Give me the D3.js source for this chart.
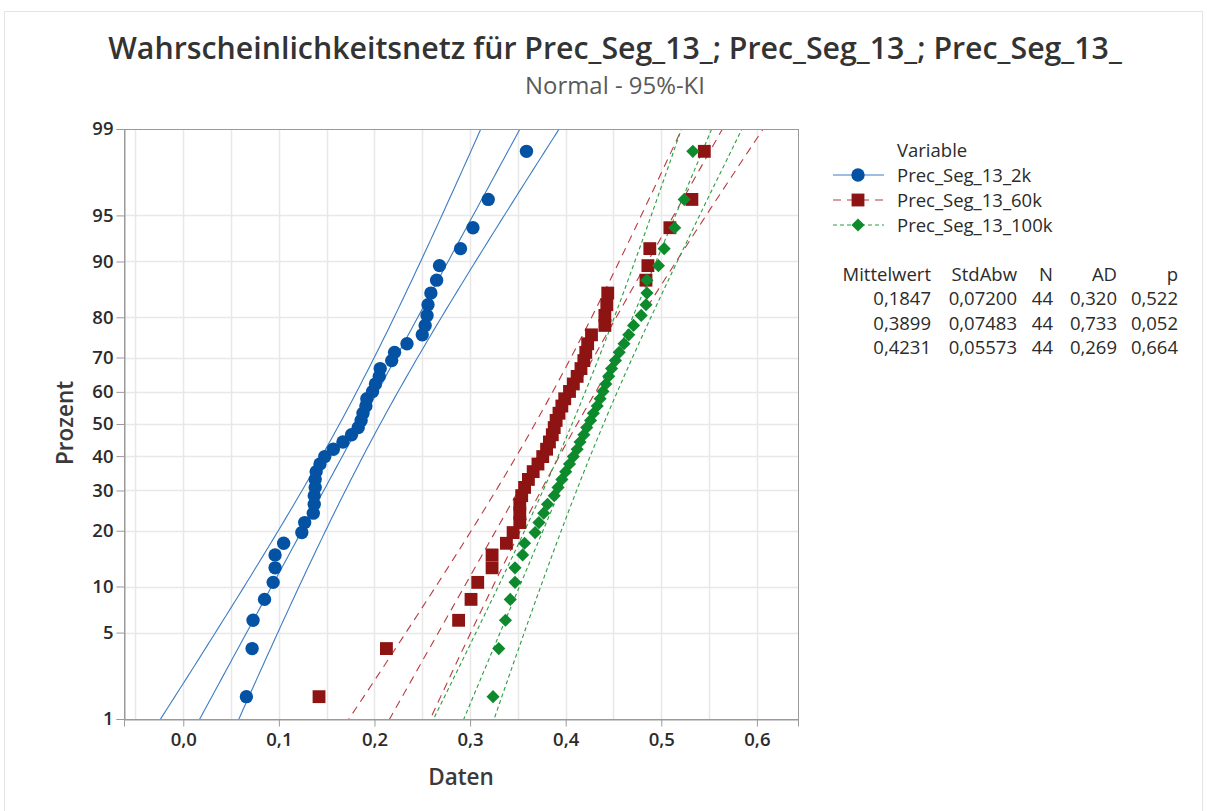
<!DOCTYPE html>
<html>
<head>
<meta charset="utf-8">
<script src="https://cdn.jsdelivr.net/npm/d3@7"></script>
<style>
  body { margin: 0; background: #fff; }
  text { font-family: "Open Sans", "Noto Sans", sans-serif; }
</style>
</head>
<body>
<svg id="chart" width="1207" height="811"></svg>
<script>
// values, sorted ascending (44 per series)
const seriesNames = ["Prec_Seg_13_2k", "Prec_Seg_13_60k", "Prec_Seg_13_100k"];
const data2k = [0.066, 0.072, 0.073, 0.085, 0.094, 0.096, 0.096, 0.105, 0.124, 0.127, 0.136,
  0.137, 0.137, 0.138, 0.138, 0.139, 0.143, 0.148, 0.157, 0.167, 0.176, 0.183, 0.186,
  0.188, 0.191, 0.192, 0.198, 0.201, 0.205, 0.206, 0.218, 0.221, 0.234, 0.250, 0.253,
  0.255, 0.256, 0.259, 0.265, 0.268, 0.290, 0.303, 0.319, 0.359];
const data60k = [0.142, 0.2125, 0.288, 0.301, 0.308, 0.323, 0.323, 0.338, 0.345, 0.352, 0.352,
  0.352, 0.354, 0.357, 0.361, 0.366, 0.371, 0.376, 0.380, 0.383, 0.386, 0.388, 0.390,
  0.393, 0.396, 0.399, 0.404, 0.408, 0.412, 0.416, 0.419, 0.421, 0.423, 0.427, 0.441,
  0.441, 0.443, 0.444, 0.484, 0.486, 0.488, 0.509, 0.532, 0.545];
const data100k = [0.324, 0.330, 0.337, 0.342, 0.347, 0.347, 0.355, 0.357, 0.368, 0.372, 0.377,
  0.381, 0.388, 0.392, 0.396, 0.400, 0.404, 0.408, 0.412, 0.415, 0.419, 0.422, 0.426,
  0.429, 0.433, 0.436, 0.439, 0.442, 0.445, 0.448, 0.452, 0.456, 0.461, 0.466, 0.471,
  0.479, 0.484, 0.485, 0.485, 0.497, 0.503, 0.514, 0.524, 0.533];

// summary table
const means = [0.1847, 0.3899, 0.4231];
const stdDevs = [0.07200, 0.07483, 0.05573];
const counts = [44, 44, 44];
const adValues = [0.320, 0.733, 0.269];
const pValues = [0.522, 0.052, 0.664];

const percentTicks = [1, 5, 10, 20, 30, 40, 50, 60, 70, 80, 90, 95, 99];
const dataTicks = [0, 0.1, 0.2, 0.3, 0.4, 0.5, 0.6];
const gridTicks = [-0.05, 0, 0.05, 0.1, 0.15, 0.2, 0.25, 0.3, 0.35, 0.4, 0.45, 0.5, 0.55, 0.6];

const allData = [data2k, data60k, data100k];
const colors = ["#0352a4", "#8e1313", "#0d8a2c"];
const lineColors = ["#3d7cc4", "#b83a3f", "#2b9e41"];
const dashes = [null, "8,6", "4,3"];
const symbols = [d3.symbolCircle, d3.symbolSquare, d3.symbolDiamond2];
const symbolSizes = [140, 165, 110];

const de = d3.formatLocale({ decimal: ",", thousands: ".", grouping: [3], currency: ["", "€"] });

// inverse standard normal (Acklam)
function probit(p) {
  const a = [-3.969683028665376e+01, 2.209460984245205e+02, -2.759285104469687e+02, 1.383577518672690e+02, -3.066479806614716e+01, 2.506628277459239e+00];
  const b = [-5.447609879822406e+01, 1.615858368580409e+02, -1.556989798598866e+02, 6.680131188771972e+01, -1.328068155288572e+01];
  const c = [-7.784894002430293e-03, -3.223964580411365e-01, -2.400758277161838e+00, -2.549732539343734e+00, 4.374664141464968e+00, 2.938163982698783e+00];
  const d = [7.784695709041462e-03, 3.224671290700398e-01, 2.445134137142996e+00, 3.754408661907416e+00];
  const pl = 0.02425;
  let q, r;
  if (p < pl) {
    q = Math.sqrt(-2 * Math.log(p));
    return (((((c[0]*q+c[1])*q+c[2])*q+c[3])*q+c[4])*q+c[5]) / ((((d[0]*q+d[1])*q+d[2])*q+d[3])*q+1);
  }
  if (p > 1 - pl) {
    q = Math.sqrt(-2 * Math.log(1 - p));
    return -(((((c[0]*q+c[1])*q+c[2])*q+c[3])*q+c[4])*q+c[5]) / ((((d[0]*q+d[1])*q+d[2])*q+d[3])*q+1);
  }
  q = p - 0.5; r = q * q;
  return (((((a[0]*r+a[1])*r+a[2])*r+a[3])*r+a[4])*r+a[5])*q / (((((b[0]*r+b[1])*r+b[2])*r+b[3])*r+b[4])*r+1);
}

const plot = { left: 124, right: 798, top: 129, bottom: 719 };

const x = d3.scaleLinear().domain([-0.062, 0.643]).range([plot.left, plot.right]);
const y = d3.scaleLinear().domain([probit(0.01), probit(0.99)]).range([plot.bottom, plot.top]);

const svg = d3.select("#chart");

// outer frame
svg.append("rect")
  .attr("x", 4.5).attr("y", 11.5).attr("width", 1198).attr("height", 812)
  .attr("fill", "#fff").attr("stroke", "#e4e4e4");

// grid
const grid = svg.append("g");
grid.selectAll(".vg").data(gridTicks).enter().append("line")
  .attr("x1", d => Math.round(x(d)) + 0.5).attr("x2", d => Math.round(x(d)) + 0.5)
  .attr("y1", plot.top).attr("y2", plot.bottom)
  .attr("stroke", "#e8e8e8").attr("stroke-width", 1.5);
grid.selectAll(".hg").data(percentTicks.slice(1, -1)).enter().append("line")
  .attr("x1", plot.left).attr("x2", plot.right)
  .attr("y1", d => Math.round(y(probit(d / 100))) + 0.5).attr("y2", d => Math.round(y(probit(d / 100))) + 0.5)
  .attr("stroke", "#e8e8e8").attr("stroke-width", 1.5);

svg.append("defs").append("clipPath").attr("id", "plotclip")
  .append("rect").attr("x", plot.left).attr("y", plot.top)
  .attr("width", plot.right - plot.left).attr("height", plot.bottom - plot.top);

// fitted line and 95% confidence bounds
const zs = d3.range(-3.2, 3.21, 0.05);
const linesG = svg.append("g").attr("clip-path", "url(#plotclip)");
allData.forEach((vals, k) => {
  const m = means[k], s = stdDevs[k], n = counts[k];
  const curves = [-1, 0, 1].map(side => zs.map(z => {
    const half = 1.96 * s * Math.sqrt(1 / n + z * z / (2 * n));
    return [m + s * z + side * half, z];
  }));
  curves.forEach(c => {
    linesG.append("path")
      .datum(c)
      .attr("fill", "none")
      .attr("stroke", lineColors[k])
      .attr("stroke-width", 1.1)
      .attr("stroke-dasharray", dashes[k])
      .attr("d", d3.line().x(d => x(d[0])).y(d => y(d[1])));
  });
});

// points (median ranks)
const pointsG = svg.append("g");
allData.forEach((vals, k) => {
  const n = vals.length;
  pointsG.selectAll(".p" + k).data(vals).enter().append("path")
    .attr("d", d3.symbol().type(symbols[k]).size(symbolSizes[k]))
    .attr("transform", (d, i) => `translate(${x(d)},${y(probit((i + 1 - 0.3) / (n + 0.4)))})`)
    .attr("fill", colors[k]);
});

// frame
svg.append("rect")
  .attr("x", plot.left + 0.5).attr("y", plot.top + 0.5)
  .attr("width", plot.right - plot.left).attr("height", plot.bottom - plot.top)
  .attr("fill", "none").attr("stroke", "#9a9a9a");

// axes
const xAxis = svg.append("g")
  .attr("transform", `translate(0,${plot.bottom + 0.5})`)
  .call(d3.axisBottom(x).tickValues(dataTicks).tickFormat(de.format(".1f")).tickSize(7).tickPadding(6));
const yAxis = svg.append("g")
  .attr("transform", `translate(${plot.left + 0.5},0)`)
  .call(d3.axisLeft(y).tickValues(percentTicks.map(p => probit(p / 100)))
    .tickFormat((d, i) => percentTicks[i]).tickSize(8).tickPadding(3));
[xAxis, yAxis].forEach(ax => {
  ax.select(".domain").attr("stroke", "#9a9a9a");
  ax.selectAll(".tick line").attr("stroke", "#9a9a9a");
  ax.selectAll(".tick text")
    .style("font-family", '"Open Sans", sans-serif')
    .style("font-size", "18.5px").style("font-weight", 600).attr("fill", "#2b2b2b");
});

// axis titles
svg.append("text").attr("x", (plot.left + plot.right) / 2).attr("y", 785)
  .attr("text-anchor", "middle").style("font-size", "22.5px").style("font-weight", 600)
  .attr("fill", "#3a3a3a").text("Daten");
svg.append("text").attr("transform", "translate(73,423) rotate(-90)")
  .attr("text-anchor", "middle").style("font-size", "22.5px").style("font-weight", 600)
  .attr("fill", "#3a3a3a").text("Prozent");

// title, sized to the reference width
const title = svg.append("text").attr("x", 615).attr("y", 59)
  .attr("text-anchor", "middle").style("font-size", "25px").style("font-weight", 600)
  .attr("fill", "#333").text("Wahrscheinlichkeitsnetz für Prec_Seg_13_; Prec_Seg_13_; Prec_Seg_13_");
const tw = title.node().getComputedTextLength();
title.style("font-size", (25 * 1014 / tw) + "px");
const subtitle = svg.append("text").attr("x", 615).attr("y", 94)
  .attr("text-anchor", "middle").style("font-size", "20px")
  .attr("fill", "#5a5a5a").text("Normal - 95%-KI");
const sw = subtitle.node().getComputedTextLength();
subtitle.style("font-size", (20 * 180 / sw) + "px");

// legend
const legend = svg.append("g");
legend.append("text").attr("x", 897).attr("y", 157).style("font-size", "18.5px")
  .attr("fill", "#2b2b2b").text("Variable");
seriesNames.forEach((name, k) => {
  const ly = 175 + k * 25;
  legend.append("line").attr("x1", 833).attr("x2", 884).attr("y1", ly).attr("y2", ly)
    .attr("stroke", lineColors[k]).attr("stroke-width", 1.2).attr("stroke-dasharray", dashes[k]);
  legend.append("path").attr("d", d3.symbol().type(symbols[k]).size(symbolSizes[k]))
    .attr("transform", `translate(858,${ly})`).attr("fill", colors[k]);
  legend.append("text").attr("x", 897).attr("y", ly + 6.5).style("font-size", "18.5px")
    .attr("fill", "#2b2b2b").text(name);
});

// statistics table
const colRight = [931, 1017, 1053, 1117, 1178];
const headers = ["Mittelwert", "StdAbw", "N", "AD", "p"];
const table = svg.append("g").style("font-size", "18.5px").attr("fill", "#2b2b2b");
headers.forEach((h, j) => {
  table.append("text").attr("x", colRight[j]).attr("y", 281).attr("text-anchor", "end").text(h);
});
means.forEach((m, k) => {
  const row = [de.format(".4f")(m), de.format(".5f")(stdDevs[k]), counts[k],
    de.format(".3f")(adValues[k]), de.format(".3f")(pValues[k])];
  row.forEach((v, j) => {
    table.append("text").attr("x", colRight[j]).attr("y", 305 + k * 24.5)
      .attr("text-anchor", "end").text(v);
  });
});
</script>
</body>
</html>
